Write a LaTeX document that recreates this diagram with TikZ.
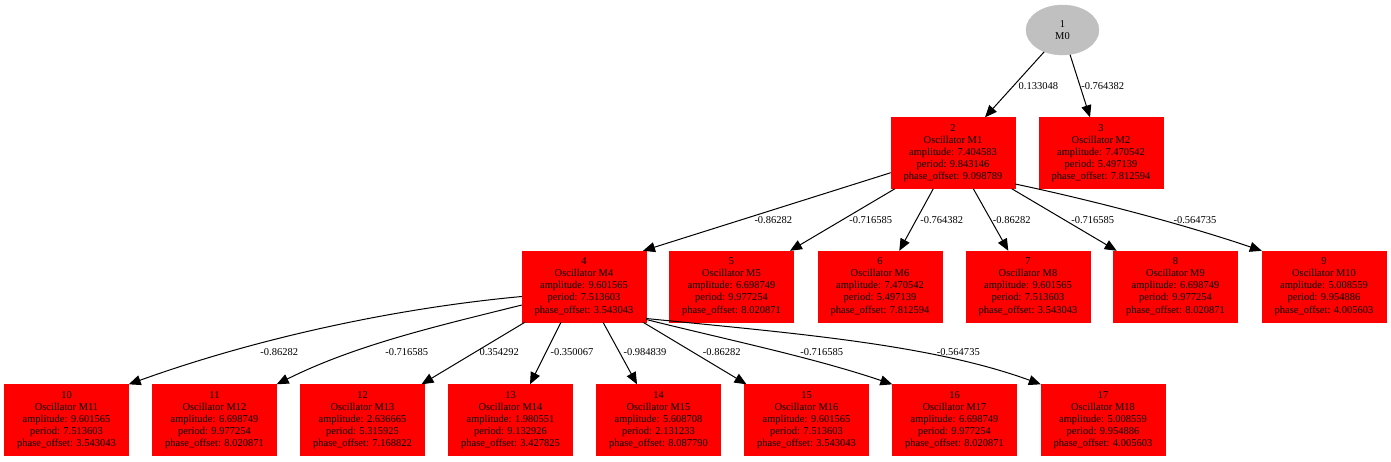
\documentclass[tikz,border=0pt]{standalone}
\usepackage{fontspec}
\setmainfont{Liberation Serif}
\usetikzlibrary{arrows.meta,shapes.geometric}
\definecolor{nodegray}{HTML}{C0C0C0}
\definecolor{boxred}{HTML}{FF0000}
\begin{document}
\begin{tikzpicture}[x=1pt,y=-1pt,
  box/.style={rectangle, fill=boxred, draw=boxred, minimum width=124pt, minimum height=71pt, inner sep=0pt, align=center, font=\fontsize{10.5}{12.1}\selectfont},
  root/.style={ellipse, fill=nodegray, draw=nodegray, minimum width=73pt, minimum height=50pt, inner sep=0pt, align=center, font=\fontsize{10.5}{11.5}\selectfont},
  edge/.style={draw=black, line width=1pt, -{Triangle[length=12pt,width=10pt]}},
  elabel/.style={font=\fontsize{10.5}{12}\selectfont, inner sep=0pt}]
\useasboundingbox[fill=white] (0,0) rectangle (1391,461);

% nodes
\node[root] (n1) at (1062.5,30) {1\\M0};
\node[box] (n2) at (953,153) {2\\Oscillator M1\\amplitude: 7.404583\\period: 9.843146\\phase\_offset: 9.098789};
\node[box] (n3) at (1101,153) {3\\Oscillator M2\\amplitude: 7.470542\\period: 5.497139\\phase\_offset: 7.812594};
\node[box] (n4) at (584,286.5) {4\\Oscillator M4\\amplitude: 9.601565\\period: 7.513603\\phase\_offset: 3.543043};
\node[box] (n5) at (731.5,286.5) {5\\Oscillator M5\\amplitude: 6.698749\\period: 9.977254\\phase\_offset: 8.020871};
\node[box] (n6) at (880,286.5) {6\\Oscillator M6\\amplitude: 7.470542\\period: 5.497139\\phase\_offset: 7.812594};
\node[box] (n7) at (1028,286.5) {7\\Oscillator M8\\amplitude: 9.601565\\period: 7.513603\\phase\_offset: 3.543043};
\node[box] (n8) at (1175.5,286.5) {8\\Oscillator M9\\amplitude: 6.698749\\period: 9.977254\\phase\_offset: 8.020871};
\node[box] (n9) at (1324,286.5) {9\\Oscillator M10\\amplitude: 5.008559\\period: 9.954886\\phase\_offset: 4.005603};
\node[box] (n10) at (66.5,420) {10\\Oscillator M11\\amplitude: 9.601565\\period: 7.513603\\phase\_offset: 3.543043};
\node[box] (n11) at (214.5,420) {11\\Oscillator M12\\amplitude: 6.698749\\period: 9.977254\\phase\_offset: 8.020871};
\node[box] (n12) at (362.5,420) {12\\Oscillator M13\\amplitude: 2.636665\\period: 5.315925\\phase\_offset: 7.168822};
\node[box] (n13) at (510.5,420) {13\\Oscillator M14\\amplitude: 1.980551\\period: 9.132926\\phase\_offset: 3.427825};
\node[box] (n14) at (658.5,420) {14\\Oscillator M15\\amplitude: 5.608708\\period: 2.131233\\phase\_offset: 8.087790};
\node[box] (n15) at (806.5,420) {15\\Oscillator M16\\amplitude: 9.601565\\period: 7.513603\\phase\_offset: 3.543043};
\node[box] (n16) at (954.5,420) {16\\Oscillator M17\\amplitude: 6.698749\\period: 9.977254\\phase\_offset: 8.020871};
\node[box] (n17) at (1103,420) {17\\Oscillator M18\\amplitude: 5.008559\\period: 9.954886\\phase\_offset: 4.005603};

% edges
\path[edge] (n1.230) -- ([xshift=32pt]n2.north);
\path[edge] (n1.287) -- ([xshift=-11pt]n3.north);

\path[edge] ([yshift=-19.7pt]n2.west) -- ([xshift=59pt]n4.north);
\path[edge] ([xshift=-58pt]n2.south) -- ([xshift=58.5pt]n5.north);
\path[edge] ([xshift=-19.7pt]n2.south) -- ([xshift=19.3pt]n6.north);
\path[edge] ([xshift=20.3pt]n2.south) -- ([xshift=-19.7pt]n7.north);
\path[edge] ([xshift=58.7pt]n2.south) -- ([xshift=-58.8pt]n8.north);
\path[edge] ([yshift=-31pt]n2.east) .. controls +(80,17) and +(-80,-27) .. (n9.north west);

\path[edge] ([yshift=-10pt]n4.west) .. controls +(-130,12) and +(125,-45) .. (n10.north east);
\path[edge] ([yshift=-18.5pt]n4.west) .. controls +(-80,20) and +(80,-40) .. (n11.north east);
\path[edge] ([xshift=-59pt]n4.south) -- ([xshift=59pt]n12.north);
\path[edge] ([xshift=-23pt]n4.south) -- ([xshift=19.5pt]n13.north);
\path[edge] ([xshift=19pt]n4.south) -- ([xshift=-21.5pt]n14.north);
\path[edge] ([xshift=59pt]n4.south) -- ([xshift=-60pt]n15.north);
\path[edge] ([yshift=-33pt]n4.east) .. controls +(80,20) and +(-80,-27) .. (n16.north west);
\path[edge] ([yshift=-32pt]n4.east) .. controls +(150,15) and +(-110,-40) .. (n17.north west);

% edge labels
\node[elabel] (l1-2) at (1038.3,86) {0.133048};
\node[elabel] (l1-3) at (1102.7,86) {-0.764382};
\node[elabel] (l2-4) at (773.3,220) {-0.86282};
\node[elabel] (l2-5) at (870.7,220) {-0.716585};
\node[elabel] (l2-6) at (941.7,220) {-0.764382};
\node[elabel] (l2-7) at (1011.7,220) {-0.86282};
\node[elabel] (l2-8) at (1092.7,220) {-0.716585};
\node[elabel] (l2-9) at (1195,220) {-0.564735};
\node[elabel] (l4-10) at (279.3,352.3) {-0.86282};
\node[elabel] (l4-11) at (406.7,352.3) {-0.716585};
\node[elabel] (l4-12) at (499.3,352.3) {0.354292};
\node[elabel] (l4-13) at (572,352.3) {-0.350067};
\node[elabel] (l4-14) at (645,352.3) {-0.984839};
\node[elabel] (l4-15) at (721.7,352.3) {-0.86282};
\node[elabel] (l4-16) at (821.7,352.3) {-0.716585};
\node[elabel] (l4-17) at (958.3,352.3) {-0.564735};
\end{tikzpicture}
\end{document}
